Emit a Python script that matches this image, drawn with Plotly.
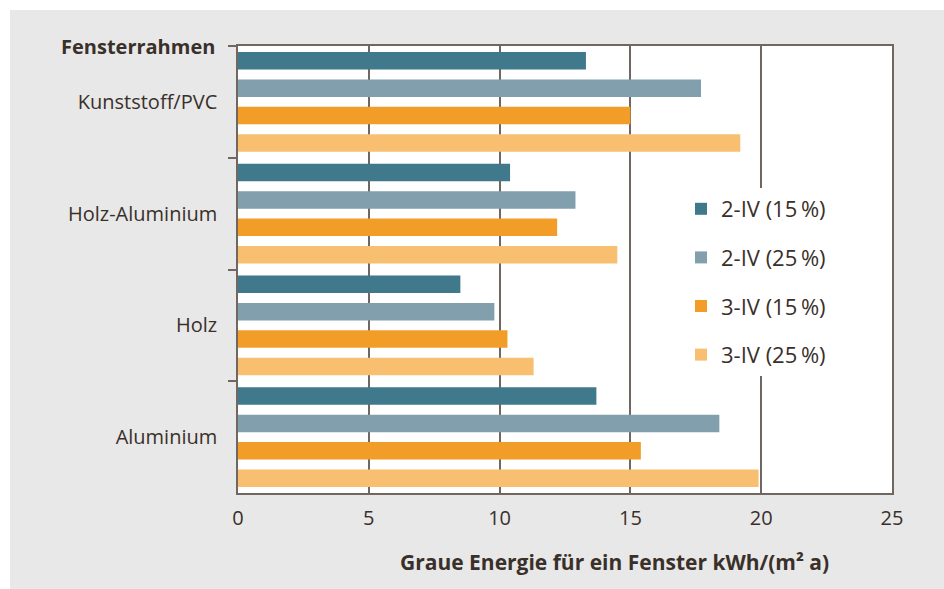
import plotly.graph_objects as go

categories = ["Kunststoff/PVC", "Holz-Aluminium", "Holz", "Aluminium"]
series_names = ["2-IV (15\u2009%)", "2-IV (25\u2009%)", "3-IV (15\u2009%)", "3-IV (25\u2009%)"]
v_2iv_15 = [13.3, 10.4, 8.5, 13.7]
v_2iv_25 = [17.7, 12.9, 9.8, 18.4]
v_3iv_15 = [15.0, 12.2, 10.3, 15.4]
v_3iv_25 = [19.2, 14.5, 11.3, 19.9]
colors = ["#3f798b", "#819fac", "#f39d29", "#f8bf71"]
x_ticks = [0, 5, 10, 15, 20, 25]

FONT = "Open Sans"
TXT = "#3a302a"
LINE = "#6f6760"

fig = go.Figure()
for i, (name, vals) in enumerate(zip(series_names, [v_2iv_15, v_2iv_25, v_3iv_15, v_3iv_25])):
    fig.add_trace(go.Bar(
        y=categories, x=vals, name=name, orientation="h",
        marker=dict(color=colors[i], line=dict(width=0)),
        legendgroup=f"g{i}",
    ))

W, H = 944, 589
L, R, T, B = 238, 892, 46, 493

fig.update_layout(
    width=W, height=H,
    margin=dict(l=L, r=W - R, t=T, b=H - B),
    paper_bgcolor="#e8e8e8",
    plot_bgcolor="#ffffff",
    barmode="group",
    bargap=0.02,
    bargroupgap=0.36,
    font=dict(family=FONT, color=TXT, size=20),
    showlegend=True,
    legend=dict(
        x=(681 - L) / (R - L), y=(B - 188) / (B - T), xanchor="left", yanchor="top",
        bgcolor="#ffffff", borderwidth=0,
        font=dict(family=FONT, size=22, color=TXT),
        tracegroupgap=17,
        traceorder="grouped",
    ),
    xaxis=dict(
        range=[0, 25], tickvals=x_ticks, ticktext=[str(t) for t in x_ticks],
        showgrid=True, gridcolor=LINE, gridwidth=1.5,
        zeroline=False, showline=True, linecolor=LINE, linewidth=1.5,
        mirror=True, ticks="", tickfont=dict(size=20, color=TXT),
        ticklabelstandoff=6,
    ),
    yaxis=dict(
        type="category", autorange="reversed",
        showgrid=False, showline=True, linecolor=LINE, linewidth=1.5,
        mirror=True, ticks="outside", ticklen=8, tickcolor=LINE, tickwidth=1.5,
        tickson="boundaries", tickfont=dict(size=20, color=TXT),
        ticklabelstandoff=15,
    ),
    shapes=[
        dict(type="rect", xref="paper", yref="paper",
             x0=-L / (R - L) - 0.1, x1=(W - L) / (R - L) + 0.1,
             y0=(B - 10) / (B - T), y1=B / (B - T) + 0.2,
             fillcolor="#ffffff", line=dict(width=0), layer="above"),
        dict(type="rect", xref="paper", yref="paper",
             x0=-L / (R - L) - 0.1, x1=(10 - L) / (R - L),
             y0=-(H - B) / (B - T) - 0.1, y1=B / (B - T) + 0.2,
             fillcolor="#ffffff", line=dict(width=0), layer="above"),
    ],
    annotations=[
        dict(text="<b>Fensterrahmen</b>", xref="paper", yref="paper",
             x=(217 - L) / (R - L), y=1.0, xanchor="right", yanchor="middle",
             showarrow=False, font=dict(family=FONT, size=20, color=TXT)),
        dict(text="<b>Graue Energie für ein Fenster kWh/(m² a)</b>", xref="paper", yref="paper",
             x=(831 - L) / (R - L), y=-(562 - B) / (B - T), xanchor="right", yanchor="middle",
             showarrow=False, font=dict(family=FONT, size=21, color=TXT)),
    ],
)

fig.write_html("out.html", config={"displayModeBar": False},
               post_script="document.body.style.margin='0';")
